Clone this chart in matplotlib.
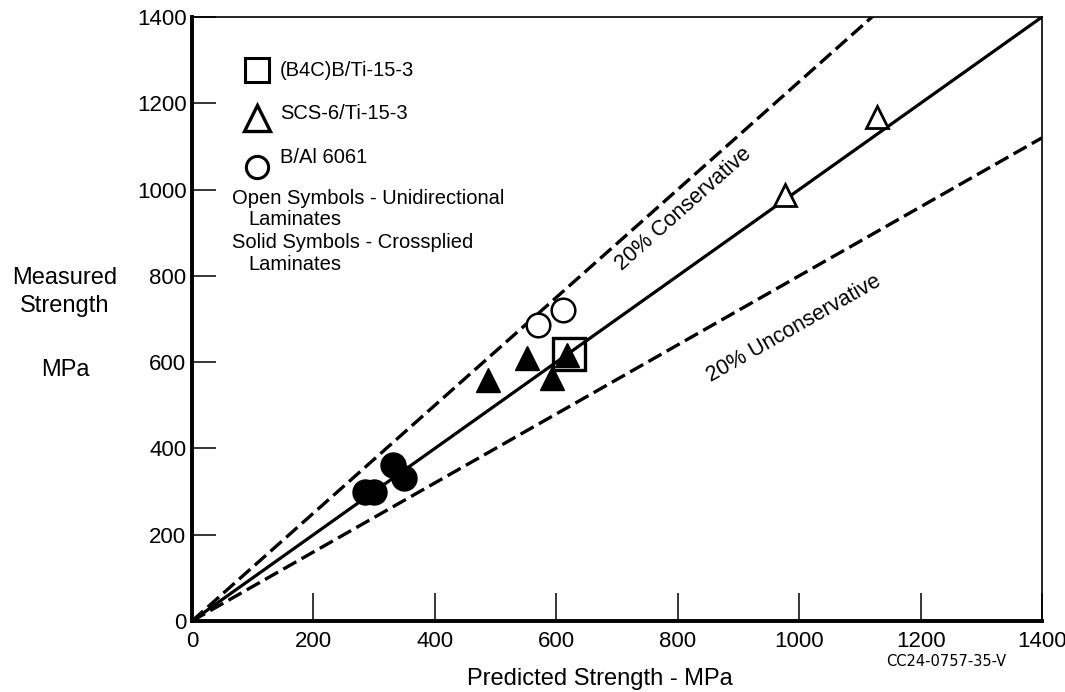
import numpy as np
import matplotlib
matplotlib.use("Agg")
import matplotlib.pyplot as plt

plt.rcParams['font.family'] = ['Liberation Sans', 'DejaVu Sans']

# ---- data ----
ref_x = [0, 1400]                      # reference lines span
ratio_equal = 1.0
ratio_conservative = 1.25
ratio_unconservative = 0.8

open_tri_x = [977, 1128]
open_tri_y = [987, 1168]
open_circ_x = [570, 611]
open_circ_y = [686, 721]
open_sq_x = [621]
open_sq_y = [619]
solid_tri_x = [487, 551, 593, 618]
solid_tri_y = [559, 609, 563, 617]
solid_circ_x = [285, 300, 331, 349]
solid_circ_y = [299, 299, 362, 331]

xticks = [0, 200, 400, 600, 800, 1000, 1200, 1400]
yticks = [0, 200, 400, 600, 800, 1000, 1200, 1400]

W, H = 1065, 692
fig = plt.figure(figsize=(W / 100, H / 100), dpi=100)
ax = fig.add_axes([192 / W, 1 - 621 / H, 850 / W, 604 / H])
ax.set_xlim(0, 1400)
ax.set_ylim(0, 1400)

rx = np.array(ref_x, dtype=float)
ax.plot(rx, rx * ratio_equal, color='black', lw=2.3, solid_capstyle='butt', zorder=2)
ax.plot(rx, rx * ratio_conservative, color='black', lw=2.4, dashes=(4.5, 1.8), zorder=2)
ax.plot(rx, rx * ratio_unconservative, color='black', lw=2.4, dashes=(4.5, 1.8), zorder=2)

ax.plot(solid_circ_x, solid_circ_y, 'o', ms=18, mfc='black', mec='black', mew=1, zorder=3)
ax.plot(solid_tri_x, solid_tri_y, '^', ms=17, mfc='black', mec='black', mew=1, zorder=3)
ax.plot(open_circ_x, open_circ_y, 'o', ms=17, mfc='white', mec='black', mew=1.8, zorder=3)
ax.plot(open_sq_x, open_sq_y, 's', ms=23, mfc='none', mec='black', mew=2.4, zorder=4)
ax.plot(open_tri_x, open_tri_y, '^', ms=16, mfc='white', mec='black', mew=2.0, zorder=3)

# rotated line labels, parallel to their lines (data-space rotation)
ax.text(809, 956, '20% Conservative', fontsize=15.5, ha='center', va='center',
        rotation=np.degrees(np.arctan(ratio_conservative)), rotation_mode='anchor',
        transform_rotates_text=True, zorder=5)
ax.text(992, 678, '20% Unconservative', fontsize=15.5, ha='center', va='center',
        rotation=np.degrees(np.arctan(ratio_unconservative)), rotation_mode='anchor',
        transform_rotates_text=True, zorder=5)

# legend (manual)
T = ax.transAxes
ax.plot([0.0765], [0.912], 's', ms=17.5, mfc='none', mec='black', mew=2.2, transform=T, clip_on=False)
ax.plot([0.0765], [0.832], '^', ms=19, mfc='none', mec='black', mew=2.4, transform=T, clip_on=False)
ax.plot([0.0765], [0.752], 'o', ms=16, mfc='none', mec='black', mew=2.2, transform=T, clip_on=False)
fs_leg = 14.5
ax.text(0.1035, 0.912, '(B4C)B/Ti-15-3', fontsize=fs_leg, va='center', transform=T)
ax.text(0.1035, 0.841, 'SCS-6/Ti-15-3', fontsize=fs_leg, va='center', transform=T)
ax.text(0.1035, 0.768, 'B/Al 6061', fontsize=fs_leg, va='center', transform=T)
ax.text(0.047, 0.700, 'Open Symbols - Unidirectional', fontsize=fs_leg, va='center', transform=T)
ax.text(0.066, 0.664, 'Laminates', fontsize=fs_leg, va='center', transform=T)
ax.text(0.047, 0.627, 'Solid Symbols - Crossplied', fontsize=fs_leg, va='center', transform=T)
ax.text(0.066, 0.591, 'Laminates', fontsize=fs_leg, va='center', transform=T)

# axes styling
ax.set_xticks(xticks)
ax.set_yticks(yticks)
ax.set_xticklabels([str(v) for v in xticks])
ax.set_yticklabels([str(v) for v in yticks])
ax.tick_params(axis='x', direction='in', length=20, width=1.1, labelsize=16, pad=7)
ax.tick_params(axis='y', direction='in', length=17, width=1.1, labelsize=16, pad=4)
ax.spines['left'].set_linewidth(2.8)
ax.spines['bottom'].set_linewidth(2.8)
ax.spines['top'].set_linewidth(1.2)
ax.spines['right'].set_linewidth(1.2)

fig.text(600 / W, 1 - 679 / H, 'Predicted Strength - MPa', fontsize=17, ha='center', va='center')
fig.text(65 / W, 1 - 292 / H, 'Measured\nStrength', fontsize=17, ha='center', va='center', linespacing=1.3)
fig.text(65 / W, 1 - 370 / H, 'MPa', fontsize=17, ha='center', va='center')
fig.text(946 / W, 1 - 662 / H, 'CC24-0757-35-V', fontsize=10.5, ha='center', va='center',
         family=['DejaVu Sans'])

fig.savefig('out.png', dpi=100, facecolor='white')
